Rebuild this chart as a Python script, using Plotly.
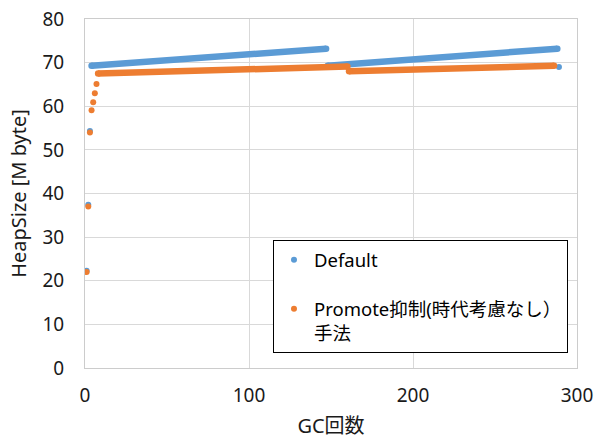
import plotly.graph_objects as go

# ---- data ----
# Default: isolated early points + two slowly rising runs + one final point
default_pt_gc = [1, 2, 3, 289]
default_pt_heap = [22.3, 37.4, 54.3, 69.0]
default_seg_gc = [[4, 147], [148, 288]]
default_seg_heap = [[69.3, 73.2], [69.3, 73.2]]

# Promote抑制(時代考慮なし）手法
promote_pt_gc = [1, 2, 3, 4, 5, 6, 7]
promote_pt_heap = [22.0, 37.0, 54.0, 59.1, 60.9, 63.0, 65.1]
promote_seg_gc = [[8, 160], [161, 286]]
promote_seg_heap = [[67.5, 69.1], [68.0, 69.3]]

x_ticks = [0, 100, 200, 300]
y_ticks = [0, 10, 20, 30, 40, 50, 60, 70, 80]

BLUE = "#5B9BD5"
ORANGE = "#ED7D31"
FONT = "Noto Sans, Noto Sans CJK JP, sans-serif"


def seg_xy(seg_x, seg_y):
    xs, ys = [], []
    for sx, sy in zip(seg_x, seg_y):
        xs += list(sx) + [None]
        ys += list(sy) + [None]
    return xs, ys


fig = go.Figure()

dx, dy = seg_xy(default_seg_gc, default_seg_heap)
fig.add_trace(go.Scatter(x=default_pt_gc, y=default_pt_heap, mode="markers",
                         name="Default", legendgroup="a",
                         marker=dict(color=BLUE, size=6)))
fig.add_trace(go.Scatter(x=dx, y=dy, mode="lines+markers", showlegend=False,
                         legendgroup="a", connectgaps=False,
                         line=dict(color=BLUE, width=6.5),
                         marker=dict(color=BLUE, size=6.5)))

px_, py_ = seg_xy(promote_seg_gc, promote_seg_heap)
fig.add_trace(go.Scatter(x=promote_pt_gc, y=promote_pt_heap, mode="markers",
                         name="Promote抑制(時代考慮なし）<br>手法", legendgroup="b",
                         marker=dict(color=ORANGE, size=6)))
fig.add_trace(go.Scatter(x=px_, y=py_, mode="lines+markers", showlegend=False,
                         legendgroup="b", connectgaps=False,
                         line=dict(color=ORANGE, width=6.5),
                         marker=dict(color=ORANGE, size=6.5)))

fig.update_layout(
    width=597, height=439,
    margin=dict(l=85, r=20, t=19, b=71, autoexpand=False),
    paper_bgcolor="white", plot_bgcolor="white",
    font=dict(family=FONT, size=19, color="#1a1a1a"),
    legend=dict(x=0.3821, y=0.366, xanchor="left", yanchor="top",
                bgcolor="white", bordercolor="black", borderwidth=1,
                traceorder="grouped", tracegroupgap=22, valign="top",
                font=dict(size=18.5, color="black")),
    xaxis=dict(range=[0, 300], tickvals=x_ticks, showgrid=True,
               gridcolor="#D9D9D9", gridwidth=1, zeroline=False,
               showline=True, linecolor="#CCCCCC", linewidth=1, mirror=True,
               ticks="", ticklabelstandoff=10, automargin=False,
               ticklabeloverflow="allow",
               title=dict(text="GC回数", standoff=28, font=dict(size=20))),
    yaxis=dict(range=[0, 80], tickvals=y_ticks, showgrid=True,
               gridcolor="#D9D9D9", gridwidth=1, zeroline=False,
               showline=True, linecolor="#CCCCCC", linewidth=1, mirror=True,
               ticks="", ticklabelstandoff=16, automargin=False,
               ticklabeloverflow="allow",
               title=dict(text="HeapSize [M byte]", standoff=10, font=dict(size=20))),
)

# remove the default page margin so the figure sits at the window's top-left corner
fig.write_html("out.html",
               config={"displayModeBar": False},
               post_script="document.body.style.margin='0';")
